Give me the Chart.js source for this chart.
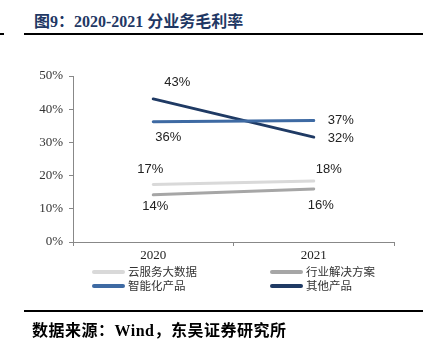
<!DOCTYPE html>
<html><head><meta charset="utf-8">
<script src="https://cdn.jsdelivr.net/npm/chart.js@4/dist/chart.umd.min.js"></script>
<style>
html,body{margin:0;padding:0;background:#fff;}
#wrap{position:relative;width:427px;height:349px;overflow:hidden;}
#title{position:absolute;left:34px;top:8px;font:bold 16px "Liberation Serif","Noto Sans CJK SC",serif;color:#1F3864;white-space:nowrap;}
.rule{position:absolute;height:2px;background:#000;}
#footer{position:absolute;left:32px;top:317px;font:bold 16px "Liberation Serif","Noto Sans CJK SC",serif;color:#000;white-space:nowrap;letter-spacing:0.5px;}
#c{position:absolute;left:0;top:0;}
.lg{position:absolute;font:11.5px "Noto Sans CJK SC",sans-serif;color:#333;white-space:nowrap;line-height:14px;}
.lg i{display:inline-block;width:33px;height:4px;border-radius:2px;vertical-align:middle;margin-right:3px;position:relative;top:-1px;}
</style></head>
<body><div id="wrap">
<div id="title">图9：2020-2021 分业务毛利率</div>
<div class="rule" style="left:0;width:4px;top:33px;"></div>
<div class="rule" style="left:24px;width:399px;top:33px;"></div>
<canvas id="c" width="427" height="349"></canvas>
<div id="legend"></div>
<div class="rule" style="left:24px;width:399px;top:310px;"></div>
<div id="footer">数据来源：Wind，东吴证券研究所</div>
</div>
<script>
const categories = ["2020", "2021"];
const seriesNames = ["云服务大数据", "行业解决方案", "智能化产品", "其他产品"];
const cloudBigData = [17.3, 18.4];
const industrySolutions = [14.2, 16.0];
const smartProducts = [36.2, 36.6];
const otherProducts = [43.1, 31.6];
const yTicks = [0, 10, 20, 30, 40, 50];

const colors = ["#D9D9D9", "#A6A6A6", "#3E6AA3", "#1F3A64"];
const seriesValues = [cloudBigData, industrySolutions, smartProducts, otherProducts];
// label offsets [dx,dy] per series per point
const labelOffsets = [
  [[-3,-15],[15,-11]],
  [[2,12],[7,17]],
  [[15,16],[27,0]],
  [[24,-16],[27,1]]
];

const labelPlugin = {
  id: 'pointLabels',
  afterDatasetsDraw(chart) {
    const ctx = chart.ctx;
    ctx.save();
    ctx.font = '13px "Liberation Sans", Arial, sans-serif';
    ctx.fillStyle = '#222';
    ctx.textAlign = 'center';
    ctx.textBaseline = 'middle';
    chart.data.datasets.forEach((ds, i) => {
      chart.getDatasetMeta(i).data.forEach((pt, j) => {
        const o = labelOffsets[i][j];
        ctx.fillText(Math.round(ds.data[j]) + '%', pt.x + o[0], pt.y + o[1]);
      });
    });
    ctx.restore();
  }
};

new Chart(document.getElementById('c'), {
  type: 'line',
  data: {
    labels: categories,
    datasets: seriesValues.map((v, i) => ({
      label: seriesNames[i], data: v, borderColor: colors[i], backgroundColor: colors[i],
      borderWidth: 3, pointRadius: 0, borderCapStyle: 'round', tension: 0
    }))
  },
  options: {
    responsive: false, animation: false,
    layout: { padding: { left: 0, right: 33, top: 76, bottom: 0 } },
    plugins: { legend: { display: false }, tooltip: { enabled: false } },
    scales: {
      x: {
        offset: true,
        grid: { offset: true, drawOnChartArea: false, tickLength: 4, color: '#888' },
        border: { color: '#888', width: 1 },
        ticks: { font: { family: '"Liberation Serif", serif', size: 13 }, color: '#222', padding: 2 },
        afterFit(s) { s.height = 107; }
      },
      y: {
        min: 0, max: 50,
        afterBuildTicks(s) { s.ticks = yTicks.map(v => ({ value: v })); },
        grid: { drawOnChartArea: false, tickLength: 4, color: '#888' },
        border: { color: '#888', width: 1 },
        ticks: { font: { family: '"Liberation Serif", serif', size: 13 }, color: '#333', padding: 6,
          callback: v => v + '%' },
        afterFit(s) { s.width = 73; }
      }
    }
  },
  plugins: [labelPlugin]
});

const lgPos = [[92,264],[270,264],[92,278],[270,278]];
const lg = document.getElementById('legend');
seriesNames.forEach((n, i) => {
  const d = document.createElement('div');
  d.className = 'lg';
  d.style.left = lgPos[i][0] + 'px';
  d.style.top = lgPos[i][1] + 'px';
  d.innerHTML = '<i style="background:' + colors[i] + '"></i>' + n;
  lg.appendChild(d);
});
</script>
</body></html>
